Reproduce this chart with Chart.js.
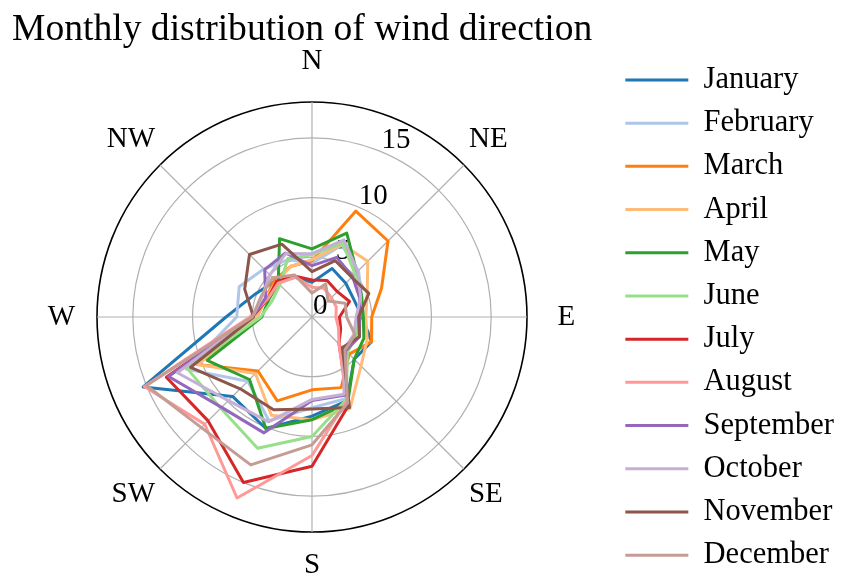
<!DOCTYPE html>
<html>
<head>
<meta charset="utf-8">
<script src="https://cdn.jsdelivr.net/npm/chart.js@4.4.1/dist/chart.umd.min.js"></script>
<style>
  html, body { margin: 0; padding: 0; background: #fff; }
  #wrap { width: 844px; height: 574px; }
</style>
</head>
<body>
<div id="wrap"><canvas id="chart"></canvas></div>
<script>
// 16 compass sectors, clockwise from north
const directions = ['N', 'NNE', 'NE', 'ENE', 'E', 'ESE', 'SE', 'SSE', 'S', 'SSW', 'SW', 'WSW', 'W', 'WNW', 'NW', 'NNW'];
const months = ['January', 'February', 'March', 'April', 'May', 'June', 'July', 'August', 'September', 'October', 'November', 'December'];

// frequency per sector
const january   = [2.9, 4.4, 4.0, 3.8, 4.2, 5.4, 5.0, 7.6, 8.3, 10.1, 9.4, 15.3, 7.2, 5.1, 4.3, 3.6];
const february  = [4.5, 6.5, 5.5, 4.5, 4.0, 4.0, 4.0, 7.4, 7.6, 9.4, 7.6, 11.4, 6.3, 6.6, 5.7, 5.2];
const march     = [4.7, 9.6, 9.0, 6.3, 5.0, 5.4, 4.4, 6.4, 6.1, 7.6, 6.4, 10.4, 4.6, 4.2, 4.4, 4.6];
const april     = [4.8, 6.6, 6.6, 5.0, 4.5, 5.0, 5.8, 8.3, 8.6, 8.9, 6.7, 10.4, 4.6, 4.2, 4.2, 4.6];
const may       = [5.7, 7.6, 5.3, 4.5, 4.3, 4.7, 5.0, 7.8, 8.6, 10.1, 7.4, 9.5, 4.2, 3.9, 4.0, 7.1];
const june      = [5.2, 6.7, 5.1, 4.4, 4.0, 4.0, 4.2, 7.5, 10.0, 11.9, 10.8, 11.3, 4.3, 3.6, 3.8, 5.3];
const july      = [3.1, 3.3, 3.0, 3.4, 2.3, 2.6, 3.2, 8.0, 12.5, 15.0, 12.3, 13.2, 5.0, 4.0, 4.2, 3.7];
const august    = [2.5, 2.6, 2.3, 2.2, 2.0, 2.4, 3.2, 7.6, 11.6, 16.4, 12.7, 15.2, 5.2, 4.0, 4.0, 3.6];
const september = [4.3, 5.4, 4.8, 4.3, 4.0, 4.3, 4.0, 7.1, 7.0, 10.5, 10.7, 13.0, 5.0, 4.2, 5.6, 5.8];
const october   = [5.3, 7.0, 5.4, 4.4, 3.7, 3.8, 3.8, 7.0, 6.9, 9.5, 9.9, 12.2, 5.0, 4.5, 5.0, 5.75];
const november  = [3.8, 5.1, 4.7, 5.15, 3.9, 4.3, 3.6, 8.2, 7.7, 8.4, 8.5, 11.0, 4.9, 6.1, 7.4, 6.6];
const december  = [2.0, 3.0, 1.9, 3.0, 2.9, 3.9, 3.9, 7.8, 10.7, 13.4, 13.1, 15.0, 5.0, 4.6, 4.65, 3.8];
const monthValues = [january, february, march, april, may, june, july, august, september, october, november, december];

// tab20 palette
const colors = ['#1f77b4', '#aec7e8', '#ff7f0e', '#ffbb78', '#2ca02c', '#98df8a',
                '#d62728', '#ff9896', '#9467bd', '#c5b0d5', '#8c564b', '#c49c94'];

const rMax = 18;
const tickValues = [0, 5, 10, 15, rMax];
const tickLabels = ['0', '5', '10', '15'];

const serif = 'Liberation Serif';

// radial tick labels sit on the NNE ray, under the lines
const rTickLabels = {
  id: 'rTickLabels',
  beforeDatasetsDraw(chart) {
    const scale = chart.scales.r;
    const ctx = chart.ctx;
    ctx.save();
    ctx.font = '29px "' + serif + '"';
    ctx.fillStyle = '#000';
    ctx.textAlign = 'left';
    ctx.textBaseline = 'alphabetic';
    tickLabels.forEach((txt, i) => {
      const p = scale.getPointPositionForValue(1, tickValues[i]);
      ctx.fillText(txt, p.x + 1, p.y - 3);
    });
    ctx.restore();
  }
};

// point label box per compass label: [padding, lineHeight]
function labelBox(i) {
  if (i % 2) return [0, 0.05];        // unlabeled sectors
  if (i === 0) return [39.5, 3 / 29];  // N
  if (i === 8) return [26.5, 13 / 29]; // S
  if (i === 4) return [30.5, 1];       // E
  if (i === 12) return [22, 1];        // W
  return [7, 1.4];                     // diagonals
}

Chart.defaults.color = '#000';

new Chart(document.getElementById('chart'), {
  type: 'radar',
  data: {
    labels: directions,
    datasets: months.map((m, i) => ({
      label: m,
      data: monthValues[i],
      borderColor: colors[i],
      backgroundColor: colors[i],
      borderWidth: 3,
      borderJoinStyle: 'round',
      fill: false,
      pointRadius: 0,
      pointHoverRadius: 0,
      order: months.length - i
    }))
  },
  options: {
    responsive: true,
    maintainAspectRatio: false,
    animation: false,
    events: [],
    layout: { padding: { left: 12, bottom: -13 } },
    plugins: {
      title: {
        display: true,
        text: 'Monthly distribution of wind direction',
        fullSize: false,
        align: 'start',
        color: '#000',
        font: { family: serif, size: 37.6, weight: 'normal', lineHeight: 1.2 },
        padding: { top: 8, bottom: 4.38 }
      },
      legend: {
        position: 'right',
        align: 'start',
        title: { display: true, text: '', font: { size: 10, lineHeight: 1 }, padding: { top: 42, bottom: 0 } },
        labels: {
          usePointStyle: true,
          pointStyle: 'line',
          pointStyleWidth: 63,
          padding: 12.7,
          color: '#000',
          font: { family: serif, size: 30.5 },
          sort: (a, b) => a.datasetIndex - b.datasetIndex
        }
      },
      tooltip: { enabled: false }
    },
    scales: {
      r: {
        min: 0,
        max: rMax,
        afterBuildTicks: s => { s.ticks = tickValues.map(v => ({ value: v })); },
        ticks: { display: false },
        grid: {
          circular: true,
          color: c => (c.tick && c.tick.value === rMax ? '#000' : '#b0b0b0'),
          lineWidth: c => (c.tick && c.tick.value === rMax ? 1.6 : 1.2)
        },
        angleLines: {
          color: c => (c.index % 2 === 0 ? '#b0b0b0' : 'rgba(0,0,0,0)'),
          lineWidth: 1.2
        },
        pointLabels: {
          color: '#000',
          callback: (label, index) => (index % 2 === 0 ? label : ''),
          font: c => ({ family: serif, size: 29, lineHeight: labelBox(c.index)[1] }),
          padding: c => labelBox(c.index)[0]
        }
      }
    }
  },
  plugins: [rTickLabels]
});
</script>
</body>
</html>
